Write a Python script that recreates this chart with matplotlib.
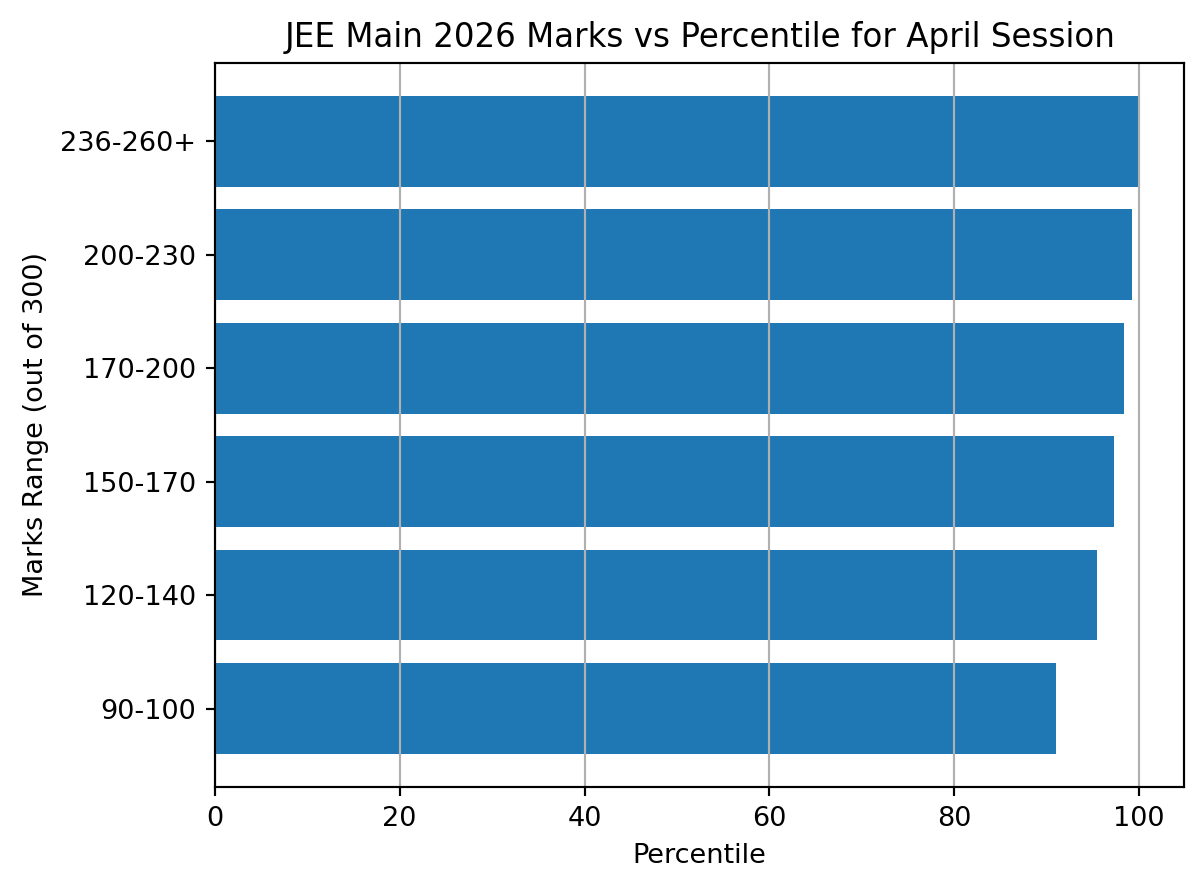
import matplotlib
matplotlib.use("Agg")
import matplotlib.pyplot as plt

marks_ranges = ["90-100", "120-140", "150-170", "170-200", "200-230", "236-260+"]
percentiles = [91.0, 95.4, 97.3, 98.4, 99.2, 99.9]

fig, ax = plt.subplots(figsize=(1200 / 195, 889 / 195), dpi=195)
fig.subplots_adjust(left=0.179, right=0.987, top=0.929, bottom=0.115)

ax.barh(marks_ranges, percentiles, color="#1f77b4")
ax.set_title("JEE Main 2026 Marks vs Percentile for April Session")
ax.set_xlabel("Percentile")
ax.set_ylabel("Marks Range (out of 300)")
ax.grid(axis="x")

fig.savefig("out.png", dpi=195)
